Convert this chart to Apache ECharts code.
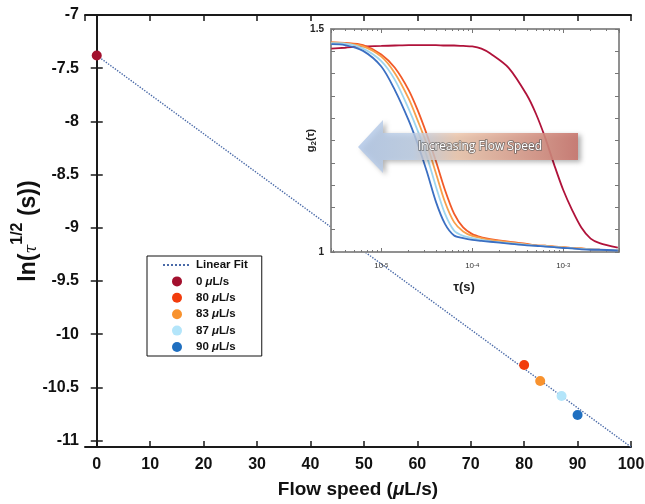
<!DOCTYPE html>
<html>
<head>
<meta charset="utf-8">
<script src="https://cdn.jsdelivr.net/npm/echarts@6/dist/echarts.min.js"></script>
<style>html,body{margin:0;padding:0;background:#fff}#c{width:645px;height:504px}</style>
</head>
<body>
<div id="c"></div>
<script>
// ---- main plot data ----
const seriesNames = ['0 μL/s', '80 μL/s', '83 μL/s', '87 μL/s', '90 μL/s'];
const flowSpeeds = [0, 80, 83, 87, 90];
const lnTau = [-7.38, -10.29, -10.44, -10.58, -10.76];
const fitX = [0, 100];
const fitY = [-7.38, -11.06];
const pointColors = ['#a3102e', '#f23c0c', '#f8922e', '#b3e5fa', '#1f6fc0'];
const curveColors = ['#b0123a', '#f25a28', '#f8a04a', '#9fd6ee', '#3b6fc2'];

// ---- inset data: g2(tau) ----
const tau = [2.82e-6, 3.98e-6, 6.31e-6, 1e-5, 1.41e-5, 2.0e-5, 2.51e-5, 3.16e-5, 3.98e-5, 5.01e-5,
  6.31e-5, 7.94e-5, 1e-4, 1.26e-4, 1.58e-4, 2.51e-4, 3.98e-4, 5.01e-4, 6.31e-4, 7.94e-4,
  1e-3, 1.26e-3, 1.58e-3, 2.0e-3, 2.51e-3, 3.98e-3];
const g2_0 = [1.456, 1.458, 1.461, 1.462, 1.463, 1.464, 1.464, 1.464, 1.464, 1.463,
  1.463, 1.462, 1.461, 1.456, 1.445, 1.413, 1.352, 1.310, 1.257, 1.196,
  1.139, 1.093, 1.055, 1.030, 1.020, 1.010];
const g2_80 = [1.470, 1.469, 1.464, 1.443, 1.413, 1.363, 1.318, 1.264, 1.204, 1.139,
  1.086, 1.055, 1.040, 1.033, 1.029, 1.023, 1.018, 1.015, 1.014, 1.012,
  1.011, 1.009, 1.008, 1.006, 1.005, 1.004];
const g2_83 = [1.470, 1.468, 1.461, 1.438, 1.401, 1.344, 1.295, 1.242, 1.177, 1.112,
  1.067, 1.046, 1.036, 1.031, 1.027, 1.022, 1.017, 1.015, 1.014, 1.012,
  1.011, 1.009, 1.008, 1.006, 1.005, 1.004];
const g2_87 = [1.468, 1.467, 1.456, 1.428, 1.386, 1.321, 1.272, 1.215, 1.147, 1.086,
  1.048, 1.036, 1.031, 1.027, 1.024, 1.020, 1.016, 1.014, 1.013, 1.011,
  1.010, 1.008, 1.007, 1.006, 1.005, 1.004];
const g2_90 = [1.466, 1.464, 1.451, 1.416, 1.363, 1.295, 1.242, 1.181, 1.113, 1.063,
  1.037, 1.031, 1.027, 1.025, 1.023, 1.019, 1.015, 1.014, 1.012, 1.011,
  1.009, 1.008, 1.006, 1.005, 1.005, 1.003];
const g2All = [g2_0, g2_80, g2_83, g2_87, g2_90];

const FONT = '"Liberation Sans", Arial, Helvetica, sans-serif';
const chart = echarts.init(document.getElementById('c'), null, {renderer: 'canvas'});

const mainAxisLine = {show: true, lineStyle: {color: '#1a1a1a', width: 2}};
const mainTick = {show: true, inside: true, length: 6, lineStyle: {color: '#1a1a1a', width: 1.5}};
const insetLine = {show: true, lineStyle: {color: '#8a8a8a', width: 1.5}};
const insetTick = {show: true, inside: true, length: 4, lineStyle: {color: '#777', width: 1}};
const insetMinor = {show: true, splitNumber: 9, length: 2, lineStyle: {color: '#777', width: 1}};

const series = [];
series.push({
  name: 'Linear Fit', type: 'line', xAxisIndex: 0, yAxisIndex: 0,
  data: fitX.map((x, i) => [x, fitY[i]]),
  symbol: 'none', showSymbol: false, z: 2,
  lineStyle: {color: '#4a6aa8', width: 1.4, type: 'dotted'},
  itemStyle: {color: '#4a6aa8'}
});
seriesNames.forEach((n, i) => {
  series.push({
    name: n, type: 'scatter', xAxisIndex: 0, yAxisIndex: 0,
    data: [[flowSpeeds[i], lnTau[i]]], symbolSize: 10, z: 3,
    itemStyle: {color: pointColors[i], opacity: 1}
  });
});
g2All.forEach((arr, i) => {
  series.push({
    name: 'g2 ' + seriesNames[i], type: 'line', xAxisIndex: 2, yAxisIndex: 2,
    data: tau.map((t, k) => [t, arr[k]]), symbol: 'none', smooth: 0.3, z: 14,
    lineStyle: {color: curveColors[i], width: 1.8}
  });
});

const mu = v => v.replace('μ', '{mu|μ}');

const legendData = [{name: 'Linear Fit', itemStyle: {opacity: 0}}].concat(seriesNames);

const option = {
  backgroundColor: '#fff',
  animation: false,
  grid: [
    {left: 85, right: 14, top: 15, bottom: 57, outerBoundsMode: 'none', containLabel: false},
    {left: 331, right: 26, top: 29, bottom: 252, show: true, backgroundColor: '#fff',
     borderColor: '#8a8a8a', borderWidth: 1.5, z: 10, outerBoundsMode: 'none', containLabel: false}
  ],
  legend: {
    data: legendData,
    orient: 'vertical', left: 147, top: 256,
    itemWidth: 28, itemHeight: 10, itemGap: 4.4,
    padding: [3, 14, 3, 15],
    borderColor: '#111', borderWidth: 1, backgroundColor: '#fff',
    formatter: n => mu(n),
    textStyle: {fontFamily: FONT, fontWeight: 'bold', fontSize: 11.5, color: '#111',
      rich: {mu: {fontFamily: FONT, fontWeight: 'bold', fontStyle: 'italic', fontSize: 11.5, color: '#111'}}},
    z: 20
  },
  xAxis: [
    {type: 'value', gridIndex: 0, min: -2.2, max: 100, splitNumber: 10,
     axisLine: mainAxisLine, axisTick: mainTick, splitLine: {show: false},
     axisLabel: {showMinLabel: false, fontFamily: FONT, fontWeight: 'bold', fontSize: 16, color: '#111', margin: 10},
     name: 'Flow speed ({mu|μ}L/s)', nameLocation: 'middle', nameGap: 33, nameMoveOverlap: false,
     nameTextStyle: {fontFamily: FONT, fontWeight: 'bold', fontSize: 19, color: '#111',
       rich: {mu: {fontFamily: FONT, fontWeight: 'bold', fontStyle: 'italic', fontSize: 19, color: '#111'}}}},
    {type: 'value', gridIndex: 0, position: 'top', min: -2.2, max: 100, splitNumber: 10,
     axisLine: mainAxisLine, axisTick: mainTick, splitLine: {show: false}, axisLabel: {show: false}},
    {type: 'log', gridIndex: 1, logBase: 10, min: 2.8e-6, max: 4.1e-3, z: 12,
     axisLine: insetLine, axisTick: insetTick, minorTick: insetMinor, splitLine: {show: false},
     axisLabel: {showMinLabel: false, showMaxLabel: false, margin: 10, color: '#333',
       formatter: v => '{b|10}{s|' + Math.round(Math.log10(v)) + '}',
       rich: {b: {fontFamily: FONT, fontSize: 8, color: '#333', verticalAlign: 'bottom'},
              s: {fontFamily: FONT, fontSize: 6, color: '#333', verticalAlign: 'top'}}},
     name: 'τ(s)', nameLocation: 'middle', nameGap: 29, nameMoveOverlap: false,
     nameTextStyle: {fontFamily: FONT, fontWeight: 'bold', fontSize: 13, color: '#222', padding: [0, 22, 0, 0]}},
    {type: 'log', gridIndex: 1, logBase: 10, position: 'top', min: 2.8e-6, max: 4.1e-3, z: 12,
     axisLine: insetLine, axisTick: insetTick, minorTick: insetMinor, splitLine: {show: false},
     axisLabel: {show: false}}
  ],
  yAxis: [
    {type: 'value', gridIndex: 0, min: -11.06, max: -7, splitNumber: 8,
     axisLine: mainAxisLine, axisTick: mainTick, splitLine: {show: false},
     axisLabel: {showMinLabel: false, fontFamily: FONT, fontWeight: 'bold', fontSize: 16, color: '#111', margin: 6},
     name: '{a|ln(}{t|τ}{s|1/2}{a| (s))}', nameLocation: 'middle', nameGap: 45, nameMoveOverlap: false,
     nameTextStyle: {rich: {
       a: {fontFamily: FONT, fontWeight: 'bold', fontSize: 23, color: '#111', lineHeight: 30, verticalAlign: 'bottom'},
       t: {fontFamily: 'DejaVu Serif, serif', fontStyle: 'italic', fontSize: 16, color: '#111', verticalAlign: 'bottom', lineHeight: 27},
       s: {fontFamily: FONT, fontWeight: 'bold', fontSize: 16, color: '#111', verticalAlign: 'top', lineHeight: 15}
     }}},
    {type: 'value', gridIndex: 0, position: 'right', min: -11.06, max: -7, splitNumber: 8,
     axisLine: mainAxisLine, axisTick: mainTick, splitLine: {show: false}, axisLabel: {show: false}},
    {type: 'value', gridIndex: 1, min: 1, max: 1.5, interval: 0.05, z: 12,
     axisLine: insetLine, axisTick: insetTick, splitLine: {show: false},
     axisLabel: {fontFamily: FONT, fontWeight: 'bold', fontSize: 10, color: '#222', margin: 7,
       formatter: v => (Math.abs(v - 1) < 1e-6 ? '1' : (Math.abs(v - 1.5) < 1e-6 ? '1.5' : ''))},
     name: '{g|g}{d|2}{g|(}{t|τ}{g|)}', nameLocation: 'middle', nameGap: 13, nameMoveOverlap: false,
     nameTextStyle: {rich: {
       g: {fontFamily: FONT, fontWeight: 'bold', fontSize: 11, color: '#222', lineHeight: 14},
       d: {fontFamily: FONT, fontWeight: 'bold', fontSize: 8, color: '#222', verticalAlign: 'bottom', lineHeight: 12},
       t: {fontFamily: FONT, fontWeight: 'bold', fontSize: 11, color: '#222', lineHeight: 14}
     }}},
    {type: 'value', gridIndex: 1, position: 'right', min: 1, max: 1.5, interval: 0.05, z: 12,
     axisLine: insetLine, axisTick: insetTick, splitLine: {show: false}, axisLabel: {show: false}}
  ],
  series: series,
  graphic: [
    {type: 'polygon', z: 30, silent: true,
     shape: {points: [[358, 147], [383, 120], [383, 133], [578, 133], [578, 160], [383, 160], [383, 173]]},
     style: {
       fill: new echarts.graphic.LinearGradient(0, 0, 1, 0, [
         {offset: 0, color: 'rgba(178,200,232,0.85)'},
         {offset: 0.25, color: 'rgba(190,208,232,0.8)'},
         {offset: 0.45, color: 'rgba(240,200,172,0.8)'},
         {offset: 1, color: 'rgba(200,118,110,0.9)'}
       ]),
       shadowColor: 'rgba(0,0,0,0.35)', shadowBlur: 5, shadowOffsetX: 3, shadowOffsetY: 2
     }},
    {type: 'text', z: 31, silent: true, x: 480, y: 147,
     style: {text: 'Increasing Flow Speed', fontFamily: '"Open Sans", sans-serif', fontSize: 12,
       fill: '#fff', stroke: 'rgba(90,90,90,0.75)', lineWidth: 1.6, align: 'center', verticalAlign: 'middle'}}
  ]
};
chart.setOption(option);
</script>
</body>
</html>
